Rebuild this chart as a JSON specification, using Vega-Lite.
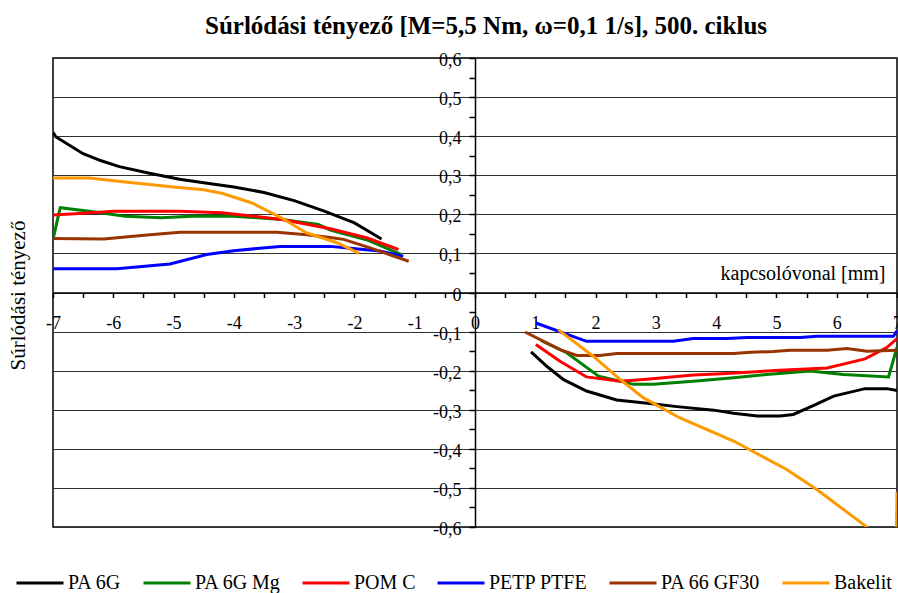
{
  "$schema": "https://vega.github.io/schema/vega-lite/v6.json",
  "width": 844,
  "height": 469,
  "autosize": "none",
  "padding": {"left": 53, "top": 58, "right": 1, "bottom": 66},
  "background": "white",
  "title": {
    "text": "Súrlódási tényező [M=5,5 Nm, ω=0,1 1/s], 500. ciklus",
    "font": "Liberation Serif",
    "fontSize": 25,
    "fontWeight": "bold",
    "color": "black",
    "anchor": "middle",
    "frame": "group",
    "baseline": "alphabetic",
    "offset": 20,
    "dx": 11,
    "dy": 27
  },
  "config": {
    "view": {"stroke": "black", "strokeWidth": 1.5},
    "font": "Liberation Serif"
  },
  "data": {
    "values": [
      {"anyag": "PA 6G", "oldal": "L", "x": -7.0, "y": 0.41},
      {"anyag": "PA 6G", "oldal": "L", "x": -6.95, "y": 0.398},
      {"anyag": "PA 6G", "oldal": "L", "x": -6.5, "y": 0.355},
      {"anyag": "PA 6G", "oldal": "L", "x": -6.2, "y": 0.337},
      {"anyag": "PA 6G", "oldal": "L", "x": -5.9, "y": 0.322},
      {"anyag": "PA 6G", "oldal": "L", "x": -5.4, "y": 0.305},
      {"anyag": "PA 6G", "oldal": "L", "x": -4.9, "y": 0.29},
      {"anyag": "PA 6G", "oldal": "L", "x": -4.5, "y": 0.281},
      {"anyag": "PA 6G", "oldal": "L", "x": -4.0, "y": 0.27},
      {"anyag": "PA 6G", "oldal": "L", "x": -3.5, "y": 0.256},
      {"anyag": "PA 6G", "oldal": "L", "x": -3.0, "y": 0.235},
      {"anyag": "PA 6G", "oldal": "L", "x": -2.5, "y": 0.208},
      {"anyag": "PA 6G", "oldal": "L", "x": -2.0, "y": 0.178},
      {"anyag": "PA 6G", "oldal": "L", "x": -1.55, "y": 0.137},
      {"anyag": "PA 6G", "oldal": "R", "x": 0.93, "y": -0.152},
      {"anyag": "PA 6G", "oldal": "R", "x": 1.2, "y": -0.19},
      {"anyag": "PA 6G", "oldal": "R", "x": 1.47, "y": -0.223},
      {"anyag": "PA 6G", "oldal": "R", "x": 1.85, "y": -0.252},
      {"anyag": "PA 6G", "oldal": "R", "x": 2.35, "y": -0.275},
      {"anyag": "PA 6G", "oldal": "R", "x": 2.9, "y": -0.284},
      {"anyag": "PA 6G", "oldal": "R", "x": 3.35, "y": -0.292},
      {"anyag": "PA 6G", "oldal": "R", "x": 3.96, "y": -0.301},
      {"anyag": "PA 6G", "oldal": "R", "x": 4.29, "y": -0.309},
      {"anyag": "PA 6G", "oldal": "R", "x": 4.68, "y": -0.316},
      {"anyag": "PA 6G", "oldal": "R", "x": 5.06, "y": -0.316},
      {"anyag": "PA 6G", "oldal": "R", "x": 5.28, "y": -0.312},
      {"anyag": "PA 6G", "oldal": "R", "x": 5.62, "y": -0.289},
      {"anyag": "PA 6G", "oldal": "R", "x": 5.95, "y": -0.265},
      {"anyag": "PA 6G", "oldal": "R", "x": 6.47, "y": -0.246},
      {"anyag": "PA 6G", "oldal": "R", "x": 6.83, "y": -0.246},
      {"anyag": "PA 6G", "oldal": "R", "x": 7.0, "y": -0.251},
      {"anyag": "PA 6G Mg", "oldal": "L", "x": -7.0, "y": 0.136},
      {"anyag": "PA 6G Mg", "oldal": "L", "x": -6.88, "y": 0.217},
      {"anyag": "PA 6G Mg", "oldal": "L", "x": -6.4, "y": 0.208},
      {"anyag": "PA 6G Mg", "oldal": "L", "x": -5.8, "y": 0.195},
      {"anyag": "PA 6G Mg", "oldal": "L", "x": -5.2, "y": 0.191},
      {"anyag": "PA 6G Mg", "oldal": "L", "x": -4.7, "y": 0.195},
      {"anyag": "PA 6G Mg", "oldal": "L", "x": -4.0, "y": 0.195},
      {"anyag": "PA 6G Mg", "oldal": "L", "x": -3.2, "y": 0.187},
      {"anyag": "PA 6G Mg", "oldal": "L", "x": -2.6, "y": 0.174},
      {"anyag": "PA 6G Mg", "oldal": "L", "x": -2.4, "y": 0.16},
      {"anyag": "PA 6G Mg", "oldal": "L", "x": -1.8, "y": 0.135},
      {"anyag": "PA 6G Mg", "oldal": "L", "x": -1.22, "y": 0.097},
      {"anyag": "PA 6G Mg", "oldal": "R", "x": 1.1, "y": -0.123},
      {"anyag": "PA 6G Mg", "oldal": "R", "x": 1.52, "y": -0.154},
      {"anyag": "PA 6G Mg", "oldal": "R", "x": 2.05, "y": -0.214},
      {"anyag": "PA 6G Mg", "oldal": "R", "x": 2.63, "y": -0.235},
      {"anyag": "PA 6G Mg", "oldal": "R", "x": 2.96, "y": -0.235},
      {"anyag": "PA 6G Mg", "oldal": "R", "x": 3.62, "y": -0.227},
      {"anyag": "PA 6G Mg", "oldal": "R", "x": 4.29, "y": -0.218},
      {"anyag": "PA 6G Mg", "oldal": "R", "x": 4.84, "y": -0.21},
      {"anyag": "PA 6G Mg", "oldal": "R", "x": 5.56, "y": -0.201},
      {"anyag": "PA 6G Mg", "oldal": "R", "x": 6.11, "y": -0.21},
      {"anyag": "PA 6G Mg", "oldal": "R", "x": 6.86, "y": -0.216},
      {"anyag": "PA 6G Mg", "oldal": "R", "x": 7.0, "y": -0.14},
      {"anyag": "POM C", "oldal": "L", "x": -7.0, "y": 0.198},
      {"anyag": "POM C", "oldal": "L", "x": -6.56, "y": 0.202},
      {"anyag": "POM C", "oldal": "L", "x": -6.0, "y": 0.208},
      {"anyag": "POM C", "oldal": "L", "x": -4.9, "y": 0.208},
      {"anyag": "POM C", "oldal": "L", "x": -4.2, "y": 0.204},
      {"anyag": "POM C", "oldal": "L", "x": -3.2, "y": 0.187},
      {"anyag": "POM C", "oldal": "L", "x": -2.4, "y": 0.163},
      {"anyag": "POM C", "oldal": "L", "x": -1.8, "y": 0.14},
      {"anyag": "POM C", "oldal": "L", "x": -1.27, "y": 0.11},
      {"anyag": "POM C", "oldal": "R", "x": 1.01, "y": -0.133},
      {"anyag": "POM C", "oldal": "R", "x": 1.41, "y": -0.176},
      {"anyag": "POM C", "oldal": "R", "x": 1.85, "y": -0.216},
      {"anyag": "POM C", "oldal": "R", "x": 2.41, "y": -0.227},
      {"anyag": "POM C", "oldal": "R", "x": 2.85, "y": -0.222},
      {"anyag": "POM C", "oldal": "R", "x": 3.62, "y": -0.211},
      {"anyag": "POM C", "oldal": "R", "x": 4.18, "y": -0.207},
      {"anyag": "POM C", "oldal": "R", "x": 5.06, "y": -0.199},
      {"anyag": "POM C", "oldal": "R", "x": 5.84, "y": -0.193},
      {"anyag": "POM C", "oldal": "R", "x": 6.47, "y": -0.17},
      {"anyag": "POM C", "oldal": "R", "x": 6.83, "y": -0.141},
      {"anyag": "POM C", "oldal": "R", "x": 7.0, "y": -0.118},
      {"anyag": "PETP PTFE", "oldal": "L", "x": -7.0, "y": 0.061},
      {"anyag": "PETP PTFE", "oldal": "L", "x": -5.94, "y": 0.061},
      {"anyag": "PETP PTFE", "oldal": "L", "x": -5.06, "y": 0.073},
      {"anyag": "PETP PTFE", "oldal": "L", "x": -4.45, "y": 0.097},
      {"anyag": "PETP PTFE", "oldal": "L", "x": -4.0, "y": 0.107},
      {"anyag": "PETP PTFE", "oldal": "L", "x": -3.23, "y": 0.118},
      {"anyag": "PETP PTFE", "oldal": "L", "x": -2.4, "y": 0.118},
      {"anyag": "PETP PTFE", "oldal": "L", "x": -2.07, "y": 0.113},
      {"anyag": "PETP PTFE", "oldal": "L", "x": -1.58, "y": 0.106},
      {"anyag": "PETP PTFE", "oldal": "L", "x": -1.19, "y": 0.093},
      {"anyag": "PETP PTFE", "oldal": "R", "x": 1.01, "y": -0.078},
      {"anyag": "PETP PTFE", "oldal": "R", "x": 1.85, "y": -0.125},
      {"anyag": "PETP PTFE", "oldal": "R", "x": 3.29, "y": -0.125},
      {"anyag": "PETP PTFE", "oldal": "R", "x": 3.62, "y": -0.118},
      {"anyag": "PETP PTFE", "oldal": "R", "x": 4.18, "y": -0.118},
      {"anyag": "PETP PTFE", "oldal": "R", "x": 4.51, "y": -0.115},
      {"anyag": "PETP PTFE", "oldal": "R", "x": 5.4, "y": -0.115},
      {"anyag": "PETP PTFE", "oldal": "R", "x": 5.67, "y": -0.112},
      {"anyag": "PETP PTFE", "oldal": "R", "x": 6.94, "y": -0.112},
      {"anyag": "PETP PTFE", "oldal": "R", "x": 7.0, "y": -0.098},
      {"anyag": "PA 66 GF30", "oldal": "L", "x": -7.0, "y": 0.138},
      {"anyag": "PA 66 GF30", "oldal": "L", "x": -6.16, "y": 0.137},
      {"anyag": "PA 66 GF30", "oldal": "L", "x": -5.44, "y": 0.147},
      {"anyag": "PA 66 GF30", "oldal": "L", "x": -4.89, "y": 0.154},
      {"anyag": "PA 66 GF30", "oldal": "L", "x": -3.29, "y": 0.154},
      {"anyag": "PA 66 GF30", "oldal": "L", "x": -2.79, "y": 0.148},
      {"anyag": "PA 66 GF30", "oldal": "L", "x": -2.4, "y": 0.141},
      {"anyag": "PA 66 GF30", "oldal": "L", "x": -2.18, "y": 0.136},
      {"anyag": "PA 66 GF30", "oldal": "L", "x": -1.74, "y": 0.114},
      {"anyag": "PA 66 GF30", "oldal": "L", "x": -1.1, "y": 0.08},
      {"anyag": "PA 66 GF30", "oldal": "R", "x": 0.83, "y": -0.101},
      {"anyag": "PA 66 GF30", "oldal": "R", "x": 1.41, "y": -0.146},
      {"anyag": "PA 66 GF30", "oldal": "R", "x": 1.69, "y": -0.161},
      {"anyag": "PA 66 GF30", "oldal": "R", "x": 2.07, "y": -0.161},
      {"anyag": "PA 66 GF30", "oldal": "R", "x": 2.35, "y": -0.156},
      {"anyag": "PA 66 GF30", "oldal": "R", "x": 4.29, "y": -0.156},
      {"anyag": "PA 66 GF30", "oldal": "R", "x": 4.57, "y": -0.153},
      {"anyag": "PA 66 GF30", "oldal": "R", "x": 4.95, "y": -0.151},
      {"anyag": "PA 66 GF30", "oldal": "R", "x": 5.23, "y": -0.148},
      {"anyag": "PA 66 GF30", "oldal": "R", "x": 5.84, "y": -0.148},
      {"anyag": "PA 66 GF30", "oldal": "R", "x": 6.17, "y": -0.143},
      {"anyag": "PA 66 GF30", "oldal": "R", "x": 6.5, "y": -0.15},
      {"anyag": "PA 66 GF30", "oldal": "R", "x": 7.0, "y": -0.148},
      {"anyag": "Bakelit", "oldal": "L", "x": -7.0, "y": 0.293},
      {"anyag": "Bakelit", "oldal": "L", "x": -6.4, "y": 0.293},
      {"anyag": "Bakelit", "oldal": "L", "x": -5.8, "y": 0.283},
      {"anyag": "Bakelit", "oldal": "L", "x": -5.0, "y": 0.27},
      {"anyag": "Bakelit", "oldal": "L", "x": -4.5, "y": 0.263},
      {"anyag": "Bakelit", "oldal": "L", "x": -4.2, "y": 0.254},
      {"anyag": "Bakelit", "oldal": "L", "x": -3.7, "y": 0.229},
      {"anyag": "Bakelit", "oldal": "L", "x": -3.2, "y": 0.19},
      {"anyag": "Bakelit", "oldal": "L", "x": -2.8, "y": 0.153},
      {"anyag": "Bakelit", "oldal": "L", "x": -2.3, "y": 0.128},
      {"anyag": "Bakelit", "oldal": "L", "x": -1.92, "y": 0.1},
      {"anyag": "Bakelit", "oldal": "R", "x": 1.38, "y": -0.095},
      {"anyag": "Bakelit", "oldal": "R", "x": 1.96, "y": -0.163},
      {"anyag": "Bakelit", "oldal": "R", "x": 2.41, "y": -0.223},
      {"anyag": "Bakelit", "oldal": "R", "x": 2.79, "y": -0.269},
      {"anyag": "Bakelit", "oldal": "R", "x": 3.4, "y": -0.321},
      {"anyag": "Bakelit", "oldal": "R", "x": 4.29, "y": -0.38},
      {"anyag": "Bakelit", "oldal": "R", "x": 5.17, "y": -0.453},
      {"anyag": "Bakelit", "oldal": "R", "x": 5.67, "y": -0.504},
      {"anyag": "Bakelit", "oldal": "R", "x": 6.5, "y": -0.6},
      {"anyag": "Bakelit", "oldal": "R", "x": 6.98, "y": -0.7},
      {"anyag": "Bakelit", "oldal": "R", "x": 7.0, "y": -0.51}
    ]
  },
  "mark": {"type": "line", "strokeWidth": 3, "clip": true},
  "encoding": {
    "x": {
      "field": "x",
      "type": "quantitative",
      "scale": {"domain": [-7, 7], "nice": false, "zero": false},
      "axis": {
        "orient": "bottom",
        "offset": -234.5,
        "values": [-7, -6.5, -6, -5.5, -5, -4.5, -4, -3.5, -3, -2.5, -2, -1.5, -1, -0.5, 0, 0.5, 1, 1.5, 2, 2.5, 3, 3.5, 4, 4.5, 5, 5.5, 6, 6.5, 7],
        "labelExpr": "datum.value % 1 != 0 ? '' : '' + datum.value",
        "grid": false,
        "domainColor": "black",
        "domainWidth": 1.5,
        "tickColor": "black",
        "tickWidth": 1.5,
        "tickSize": 5,
        "labelFont": "Liberation Serif",
        "labelFontSize": 18,
        "labelColor": "black",
        "labelPadding": 17,
        "labelOverlap": false,
        "labelFlush": false,
        "labelBound": false,
        "title": "kapcsolóvonal [mm]",
        "titleFont": "Liberation Serif",
        "titleFontSize": 20,
        "titleFontWeight": "normal",
        "titleColor": "black",
        "titleAnchor": "end",
        "titleAlign": "right",
        "titleBaseline": "alphabetic",
        "titleX": 832,
        "titleY": -13
      }
    },
    "y": {
      "field": "y",
      "type": "quantitative",
      "scale": {"domain": [-0.6, 0.6], "nice": false, "zero": false},
      "axis": {
        "orient": "left",
        "offset": -422,
        "values": [-0.6, -0.55, -0.5, -0.45, -0.4, -0.35, -0.3, -0.25, -0.2, -0.15, -0.1, -0.05, 0, 0.05, 0.1, 0.15, 0.2, 0.25, 0.3, 0.35, 0.4, 0.45, 0.5, 0.55, 0.6],
        "labelExpr": "abs(datum.value * 10 - round(datum.value * 10)) > 0.01 ? '' : replace('' + datum.value, '.', ',')",
        "grid": true,
        "gridColor": "#303030",
        "gridWidth": 1,
        "gridOpacity": {"condition": {"test": "abs(datum.value * 10 - round(datum.value * 10)) > 0.01", "value": 0}, "value": 1},
        "domainColor": "black",
        "domainWidth": 1.5,
        "tickColor": "black",
        "tickWidth": 1.5,
        "tickSize": 6,
        "labelFont": "Liberation Serif",
        "labelFontSize": 18,
        "labelColor": "black",
        "labelPadding": 8,
        "labelOffset": 2.5,
        "labelOverlap": false,
        "labelFlush": false,
        "labelBound": false,
        "title": "Súrlódási tényező",
        "titleFont": "Liberation Serif",
        "titleFontSize": 21,
        "titleFontWeight": "normal",
        "titleColor": "black",
        "titleAlign": "center",
        "titleBaseline": "middle",
        "titleX": -457,
        "titleY": 237
      }
    },
    "color": {
      "field": "anyag",
      "type": "nominal",
      "scale": {
        "domain": ["PA 6G", "PA 6G Mg", "POM C", "PETP PTFE", "PA 66 GF30", "Bakelit"],
        "range": ["#000000", "#008000", "#FF0000", "#0000FF", "#993300", "#FF9900"]
      },
      "legend": {
        "title": null,
        "orient": "none",
        "legendX": -38,
        "legendY": 500,
        "direction": "horizontal",
        "symbolType": "stroke",
        "symbolSize": 2209,
        "symbolStrokeWidth": 3,
        "labelFont": "Liberation Serif",
        "labelFontSize": 20,
        "labelColor": "black",
        "labelOffset": 3,
        "columnPadding": 15,
        "labelLimit": 300
      }
    },
    "detail": {"field": "oldal", "type": "nominal"}
  }
}
